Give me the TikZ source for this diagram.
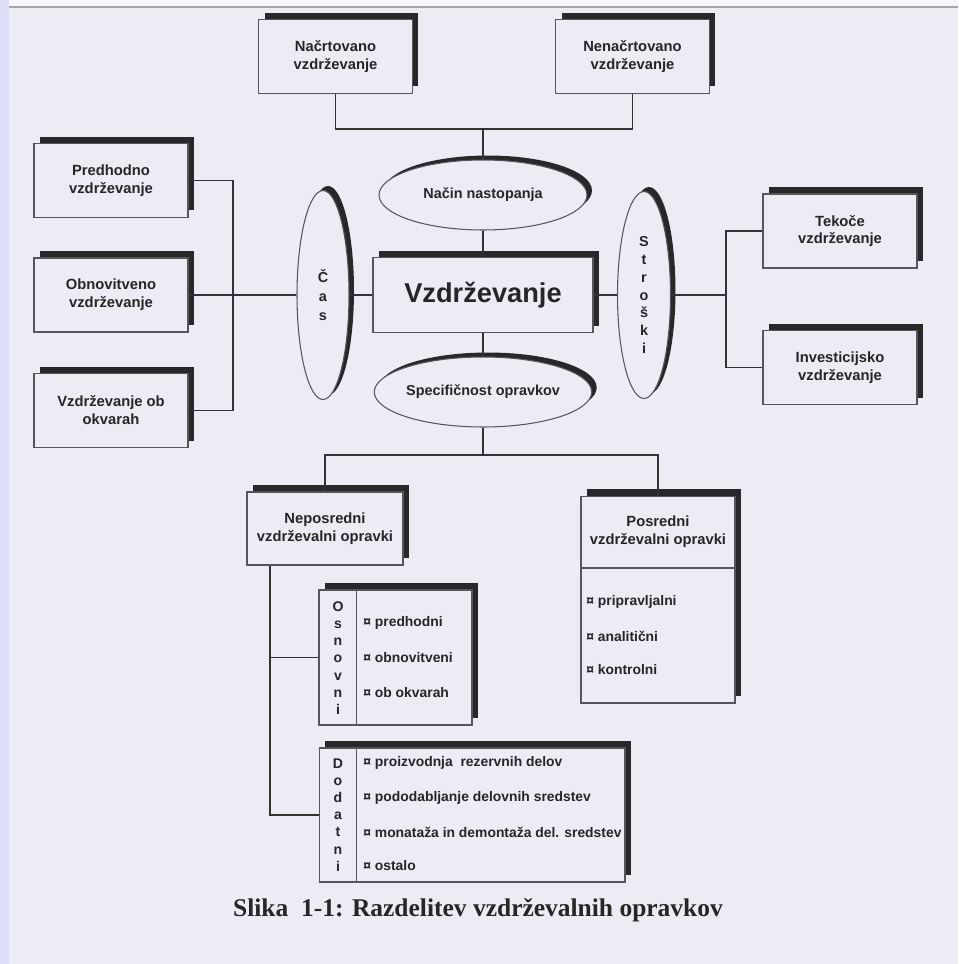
\documentclass[tikz,border=0pt]{standalone}
\usepackage{fontspec}
\setmainfont{Liberation Serif}
\setsansfont{Liberation Sans}
\usepackage{tikz}
\usetikzlibrary{positioning, shapes.geometric, shadows}
\definecolor{scanbg}{RGB}{236, 236, 245}
\definecolor{scanedge}{RGB}{222, 222, 248}
\definecolor{scantop}{RGB}{246, 246, 250}
\definecolor{frameline}{RGB}{85, 85, 90}
\definecolor{shade}{RGB}{40, 40, 42}

\begin{document}
\begin{tikzpicture}[
        x=0.02cm, y=-0.02cm,
        vbox/.style={rectangle, draw=frameline, line width=0.6pt, fill=scanbg, minimum width=3.08cm, minimum height=1.48cm, align=center, inner sep=2pt,
            font=\sffamily\bfseries\fontsize{8.4}{10.2}\selectfont, text=black!85,
            drop shadow={shadow xshift=0.12cm, shadow yshift=0.14cm, fill=shade, opacity=1}},
        vell/.style={ellipse, draw=frameline, line width=0.6pt, fill=scanbg, inner sep=0pt, align=center,
            font=\sffamily\bfseries\fontsize{8.2}{10}\selectfont, text=black!85,
            drop shadow={shadow xshift=0.1cm, shadow yshift=0.09cm, fill=shade, opacity=1}},
        stack/.style={align=center, inner sep=0pt, font=\sffamily\bfseries\fontsize{8}{9.75}\selectfont, text=black!85},
        item/.style={anchor=west, inner sep=0pt, font=\sffamily\bfseries\fontsize{7.9}{9}\selectfont, text=black!85},
        link/.style={draw=black!80, line width=0.7pt}
    ]
        % scanned page
        \useasboundingbox (0,0) rectangle (958,964);
        \fill[scanbg] (0,0) rectangle (958,964);
        \fill[scantop] (0,0) rectangle (958,6);
        \fill[scanedge] (0,0) rectangle (9,964);
        \draw[gray!70, line width=0.8pt] (9,7) -- (958,7);

        \node[vbox] (nacrt) at (335.5,56.5) {Načrtovano\\vzdrževanje};
        \node[vbox] (nenacrt) at (632.5,56.5) {Nenačrtovano\\vzdrževanje};
        \node[vell, minimum width=4.16cm, minimum height=1.4cm] (nacin) at (483,195) {Način nastopanja};

        \node[vbox] (pred) at (111,180.5) {Predhodno\\vzdrževanje};
        \node[vbox] (obnov) at (111,295) {Obnovitveno\\vzdrževanje};
        \node[vbox] (okvar) at (111,410.5) {Vzdrževanje ob\\okvarah};
        \node[vell, minimum width=1.04cm, minimum height=4.18cm, font=\sffamily\bfseries\fontsize{8.2}{10.8}\selectfont] (cas) at (323,295) {Č\\a\\s};

        \node[vbox, minimum width=4.4cm, minimum height=1.5cm, font=\sffamily\bfseries\fontsize{15.5}{18}\selectfont] (vzd) at (483,295) {Vzdrževanje};

        \node[vell, minimum width=1.06cm, minimum height=4.14cm, font=\sffamily\bfseries\fontsize{8.2}{10.2}\selectfont] (stro) at (644,295) {S\\t\\r\\o\\š\\k\\i};
        \node[vbox] (tekoce) at (840,231) {Tekoče\\vzdrževanje};
        \node[vbox] (invest) at (840,367.5) {Investicijsko\\vzdrževanje};

        \node[vell, minimum width=4.16cm, minimum height=1.4cm] (spec) at (483,392) {Specifičnost opravkov};

        \node[vbox, minimum width=3.12cm, minimum height=1.46cm] (nepos) at (325,528.5) {Neposredni\\vzdrževalni opravki};
        \node[vbox, minimum width=3.08cm, minimum height=4.14cm] (pos) at (658,599.5) {};
        \node[inner sep=0pt, align=center, font=\sffamily\bfseries\fontsize{8.4}{10.2}\selectfont, text=black!85] (posh) at (658,532) {Posredni\\vzdrževalni opravki};
        \draw[frameline, line width=0.6pt] (pos.west |- 0,568) -- (pos.east |- 0,568);
        \node[item] (p1) at (586,602) {¤ pripravljalni};
        \node[item] (p2) at (586,636) {¤ analitični};
        \node[item] (p3) at (586,670) {¤ kontrolni};

        % osnovni
        \node[vbox, minimum width=3.06cm, minimum height=2.7cm] (osn) at (395.5,657.5) {};
        \draw[frameline, line width=0.6pt] ([xshift=0.76cm]osn.north west) -- ([xshift=0.76cm]osn.south west);
        \node[stack] (osnl) at (338,658) {O\\s\\n\\o\\v\\n\\i};
        \node[item] (o1) at (363,623) {¤ predhodni};
        \node[item] (o2) at (363,658) {¤ obnovitveni};
        \node[item] (o3) at (363,693) {¤ ob okvarah};

        % dodatni
        \node[vbox, minimum width=6.12cm, minimum height=2.68cm] (dod) at (472,815) {};
        \draw[frameline, line width=0.6pt] ([xshift=0.76cm]dod.north west) -- ([xshift=0.76cm]dod.south west);
        \node[stack] (dodl) at (338,815) {D\\o\\d\\a\\t\\n\\i};
        \node[item] (d1) at (363,763) {¤ proizvodnja\ \ rezervnih delov};
        \node[item] (d2) at (363,798) {¤ pododabljanje delovnih sredstev};
        \node[item] (d3) at (363,832) {¤ monataža in demontaža del. sredstev};
        \node[item] (d4) at (363,866) {¤ ostalo};

        \node[font=\rmfamily\bfseries\fontsize{14.5}{17}\selectfont, text=black!85] (cap) at (478,910) {Slika\ \ 1-1: Razdelitev vzdrževalnih opravkov};

        \coordinate (jt) at (483,129);
        \coordinate (jl) at (233,295);
        \coordinate (jr) at (726,295);
        \coordinate (jb) at (483,455);
        \coordinate (jn) at (270,815);

        \draw[link] (nacrt.south) |- (jt) -| (nenacrt.south);
        \draw[link] (jt) -- (nacin);
        \draw[link] (nacin) -- (vzd);
        \draw[link] (vzd) -- (spec);
        \draw[link] (pred.east) -| (jl) |- (okvar.east);
        \draw[link] (obnov.east) -- (cas);
        \draw[link] (cas) -- (vzd);
        \draw[link] (vzd) -- (stro);
        \draw[link] (stro) -- (jr);
        \draw[link] (tekoce.west) -| (jr) |- (invest.west);
        \draw[link] (spec) -- (jb);
        \draw[link] (nepos.north) |- (jb) -| (pos.north);
        \draw[link] (nepos.south -| jn) |- (dod.west);
        \draw[link] (osn.west) -- (osn.west -| jn);
    \end{tikzpicture}
\end{document}
